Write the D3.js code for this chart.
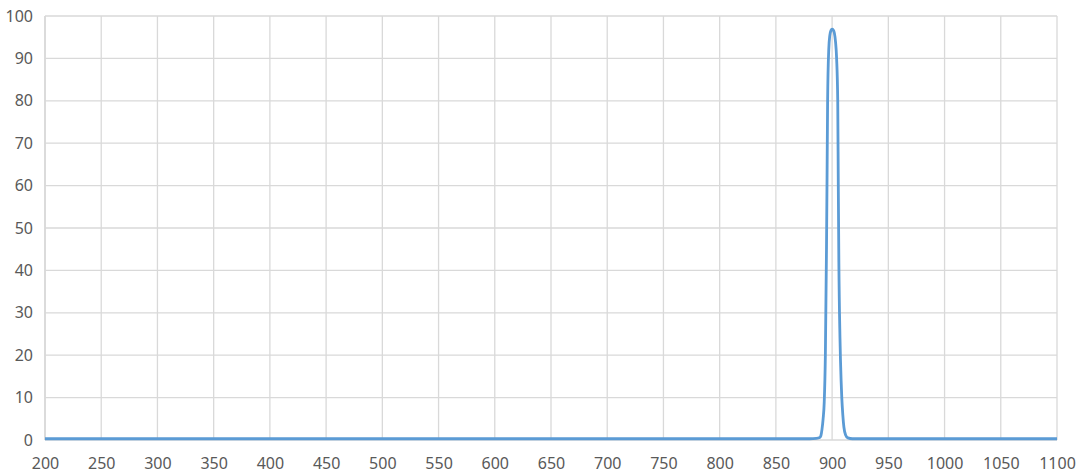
<!DOCTYPE html>
<html>
<head>
<meta charset="utf-8">
<script src="https://cdn.jsdelivr.net/npm/d3@7"></script>
<style>
  html, body { margin: 0; padding: 0; background: #fff; }
  svg text { font-family: "Noto Sans", "DejaVu Sans", sans-serif; font-size: 16px; fill: #595959; }
</style>
</head>
<body>
<div id="chart"></div>
<script>
// wavelength (nm) and transmission (%)
const wavelength = [200, 300, 400, 500, 600, 700, 800, 850, 880, 886, 889, 890, 891, 892, 893, 894, 895, 895.5, 896, 897, 898, 899, 900, 901, 902, 903, 904, 905, 905.5, 906, 907, 908, 908.6, 909.5, 910.5, 912, 914, 918, 930, 1000, 1100];
const transmission = [0.3, 0.3, 0.3, 0.3, 0.3, 0.3, 0.3, 0.3, 0.3, 0.4, 0.6, 1, 2.5, 5, 9, 20, 45, 62, 80, 92, 95.5, 96.6, 96.9, 96.7, 96, 94, 90, 80, 60, 42, 24, 14, 10, 6, 3, 1.2, 0.5, 0.3, 0.3, 0.3, 0.3];
const xTicks = d3.range(200, 1101, 50);
const yTicks = d3.range(0, 101, 10);

const width = 1081, height = 474;
const margin = { top: 16, right: 24, bottom: 34, left: 45 };

const svg = d3.select('#chart').append('svg')
    .attr('width', width)
    .attr('height', height);

const x = d3.scaleLinear().domain([200, 1100]).range([margin.left, width - margin.right]);
const y = d3.scaleLinear().domain([0, 100]).range([height - margin.bottom, margin.top]);

// grid
svg.append('g')
    .selectAll('line.vg')
    .data(xTicks)
    .enter().append('line')
    .attr('x1', d => x(d)).attr('x2', d => x(d))
    .attr('y1', y(0)).attr('y2', y(100))
    .attr('stroke', d => d === 200 ? '#c8c8c8' : '#d9d9d9')
    .attr('stroke-width', 1.3);

svg.append('g')
    .selectAll('line.hg')
    .data(yTicks)
    .enter().append('line')
    .attr('x1', x(200)).attr('x2', x(1100))
    .attr('y1', d => y(d)).attr('y2', d => y(d))
    .attr('stroke', '#d9d9d9')
    .attr('stroke-width', 1.3);

// axis labels
const yAxis = d3.axisLeft(y).tickValues(yTicks).tickSize(0).tickPadding(12).tickFormat(d3.format('d'));
svg.append('g')
    .attr('transform', `translate(${margin.left},0)`)
    .call(yAxis)
    .call(g => g.select('.domain').remove());

const xAxis = d3.axisBottom(x).tickValues(xTicks).tickSize(0).tickPadding(18).tickFormat(d3.format('d'));
svg.append('g')
    .attr('transform', `translate(0,${y(0)})`)
    .call(xAxis)
    .call(g => g.select('.domain').remove());

svg.selectAll('.tick text').attr('font-family', null).attr('font-size', null);

// curve
const line = d3.line()
    .x((d, i) => x(wavelength[i]))
    .y(d => y(d))
    .curve(d3.curveMonotoneX);

svg.append('path')
    .datum(transmission)
    .attr('fill', 'none')
    .attr('stroke', '#5b9bd5')
    .attr('stroke-width', 2.8)
    .attr('stroke-linejoin', 'round')
    .attr('d', line);
</script>
</body>
</html>
